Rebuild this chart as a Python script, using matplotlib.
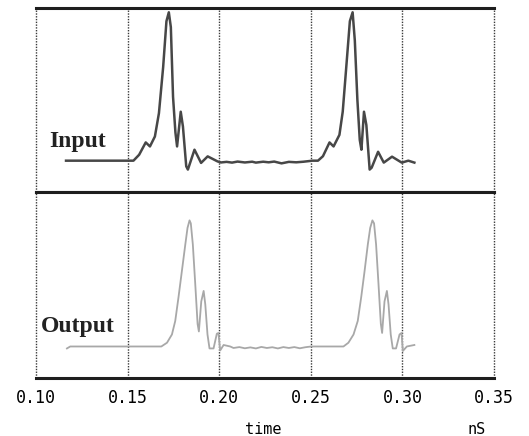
import matplotlib
matplotlib.use("Agg")
import matplotlib.pyplot as plt

#  Input pulse train (time in nS, amplitude in arbitrary units)
input_t = [0.1164, 0.1532, 0.1563, 0.1599, 0.1622, 0.1649, 0.1671, 0.1694, 0.1712, 0.1725,
           0.1736, 0.1748, 0.1761, 0.1770, 0.1790, 0.1802, 0.1820, 0.1829, 0.1865, 0.1901,
           0.1937, 0.1991, 0.2010, 0.2040, 0.2070, 0.2100, 0.2140, 0.2180, 0.2200, 0.2240,
           0.2270, 0.2300, 0.2340, 0.2380, 0.2420, 0.2460, 0.2509, 0.2539, 0.2566, 0.2602,
           0.2624, 0.2656, 0.2674, 0.2692, 0.2713, 0.2728, 0.2740, 0.2754, 0.2767, 0.2776,
           0.2790, 0.2803, 0.2821, 0.2832, 0.2867, 0.2898, 0.2943, 0.2996, 0.3032, 0.3065]
input_v = [0.0, 0.0, 0.04, 0.123, 0.096, 0.163, 0.32, 0.63, 0.94, 1.0,
           0.90, 0.43, 0.19, 0.096, 0.33, 0.23, -0.038, -0.06, 0.074, -0.015,
           0.029, -0.005, -0.012, -0.008, -0.013, -0.006, -0.012, -0.007, -0.013, -0.007,
           -0.011, -0.006, -0.018, -0.008, -0.011, -0.007, 0.0, 0.0, 0.03, 0.123,
           0.096, 0.174, 0.33, 0.61, 0.94, 1.0, 0.81, 0.41, 0.14, 0.074,
           0.33, 0.24, -0.06, -0.047, 0.06, -0.013, 0.027, -0.013, 0.0, -0.013]

#  Output pulse train
output_t = [0.1169, 0.1187, 0.1684, 0.1715, 0.1742, 0.1760, 0.1778, 0.1796, 0.1815, 0.1827,
            0.1838, 0.1845, 0.1856, 0.1869, 0.1882, 0.1889, 0.1902, 0.1915, 0.1924, 0.1936,
            0.1947, 0.1969, 0.1987, 0.1996, 0.2005, 0.2024, 0.2060, 0.2078, 0.2110, 0.2140,
            0.2170, 0.2200, 0.2230, 0.2260, 0.2290, 0.2320, 0.2350, 0.2380, 0.2410, 0.2440,
            0.2470, 0.2502, 0.2678, 0.2705, 0.2733, 0.2756, 0.2775, 0.2793, 0.2811, 0.2824,
            0.2836, 0.2845, 0.2856, 0.2869, 0.2882, 0.2889, 0.2902, 0.2915, 0.2924, 0.2936,
            0.2947, 0.2965, 0.2984, 0.2995, 0.3002, 0.3024, 0.3065]
output_v = [-0.013, 0.0, 0.0, 0.025, 0.08, 0.17, 0.33, 0.50, 0.68, 0.79,
            0.84, 0.82, 0.68, 0.42, 0.15, 0.10, 0.30, 0.37, 0.28, 0.08,
            -0.013, -0.013, 0.085, 0.09, -0.027, 0.01, 0.0, -0.01, -0.004, -0.012,
            -0.006, -0.013, -0.003, -0.01, -0.005, -0.013, -0.004, -0.01, -0.004, -0.012,
            -0.005, 0.0, 0.0, 0.025, 0.08, 0.17, 0.33, 0.50, 0.68, 0.79,
            0.84, 0.82, 0.68, 0.42, 0.15, 0.09, 0.30, 0.37, 0.28, 0.08,
            -0.013, -0.013, 0.08, 0.09, -0.03, 0.0, 0.01]

xticks = [0.10, 0.15, 0.20, 0.25, 0.30, 0.35]
xtick_labels = ["0.10", "0.15", "0.20", "0.25", "0.30", "0.35"]

fig = plt.figure(figsize=(5.29, 4.36), dpi=100)
ax_in = fig.add_axes([0.068, 0.560, 0.866, 0.422])
ax_out = fig.add_axes([0.068, 0.133, 0.866, 0.427])

for ax in (ax_in, ax_out):
    ax.set_xlim(0.10, 0.35)
    ax.set_ylim(-0.21, 1.03)
    ax.set_yticks([])
    ax.set_xticks(xticks)
    ax.tick_params(axis="x", length=0)
    ax.spines["left"].set_visible(False)
    ax.spines["right"].set_visible(False)
    for side in ("top", "bottom"):
        ax.spines[side].set_linewidth(2.2)
        ax.spines[side].set_color("#1e1e1e")
    for x in xticks:
        ax.axvline(x, color="#3a3a3a", linestyle=(0, (1, 1)), linewidth=1.0, clip_on=False, zorder=1)

ax_in.set_xticklabels([])
ax_out.set_xticklabels(xtick_labels, family="DejaVu Sans Mono", fontsize=12)
ax_out.tick_params(axis="x", pad=8)

ax_in.plot(input_t, input_v, color="#474747", linewidth=1.8, zorder=3)
ax_out.plot(output_t, output_v, color="#a8a8a8", linewidth=1.3, zorder=3)

ax_in.text(0.1071, 0.13, "Input", family="Liberation Serif", fontweight="bold",
           fontsize=17, ha="left", va="center", color="#222222")
ax_out.text(0.1028, 0.13, "Output", family="Liberation Serif", fontweight="bold",
            fontsize=17, ha="left", va="center", color="#222222")

fig.text(263 / 529, 1 - 429 / 436, "time", family="DejaVu Sans Mono", fontsize=11,
         ha="center", va="center")
fig.text(477 / 529, 1 - 429 / 436, "nS", family="DejaVu Sans Mono", fontsize=11,
         ha="center", va="center")

plt.savefig("out.png", dpi=100)
plt.close()
